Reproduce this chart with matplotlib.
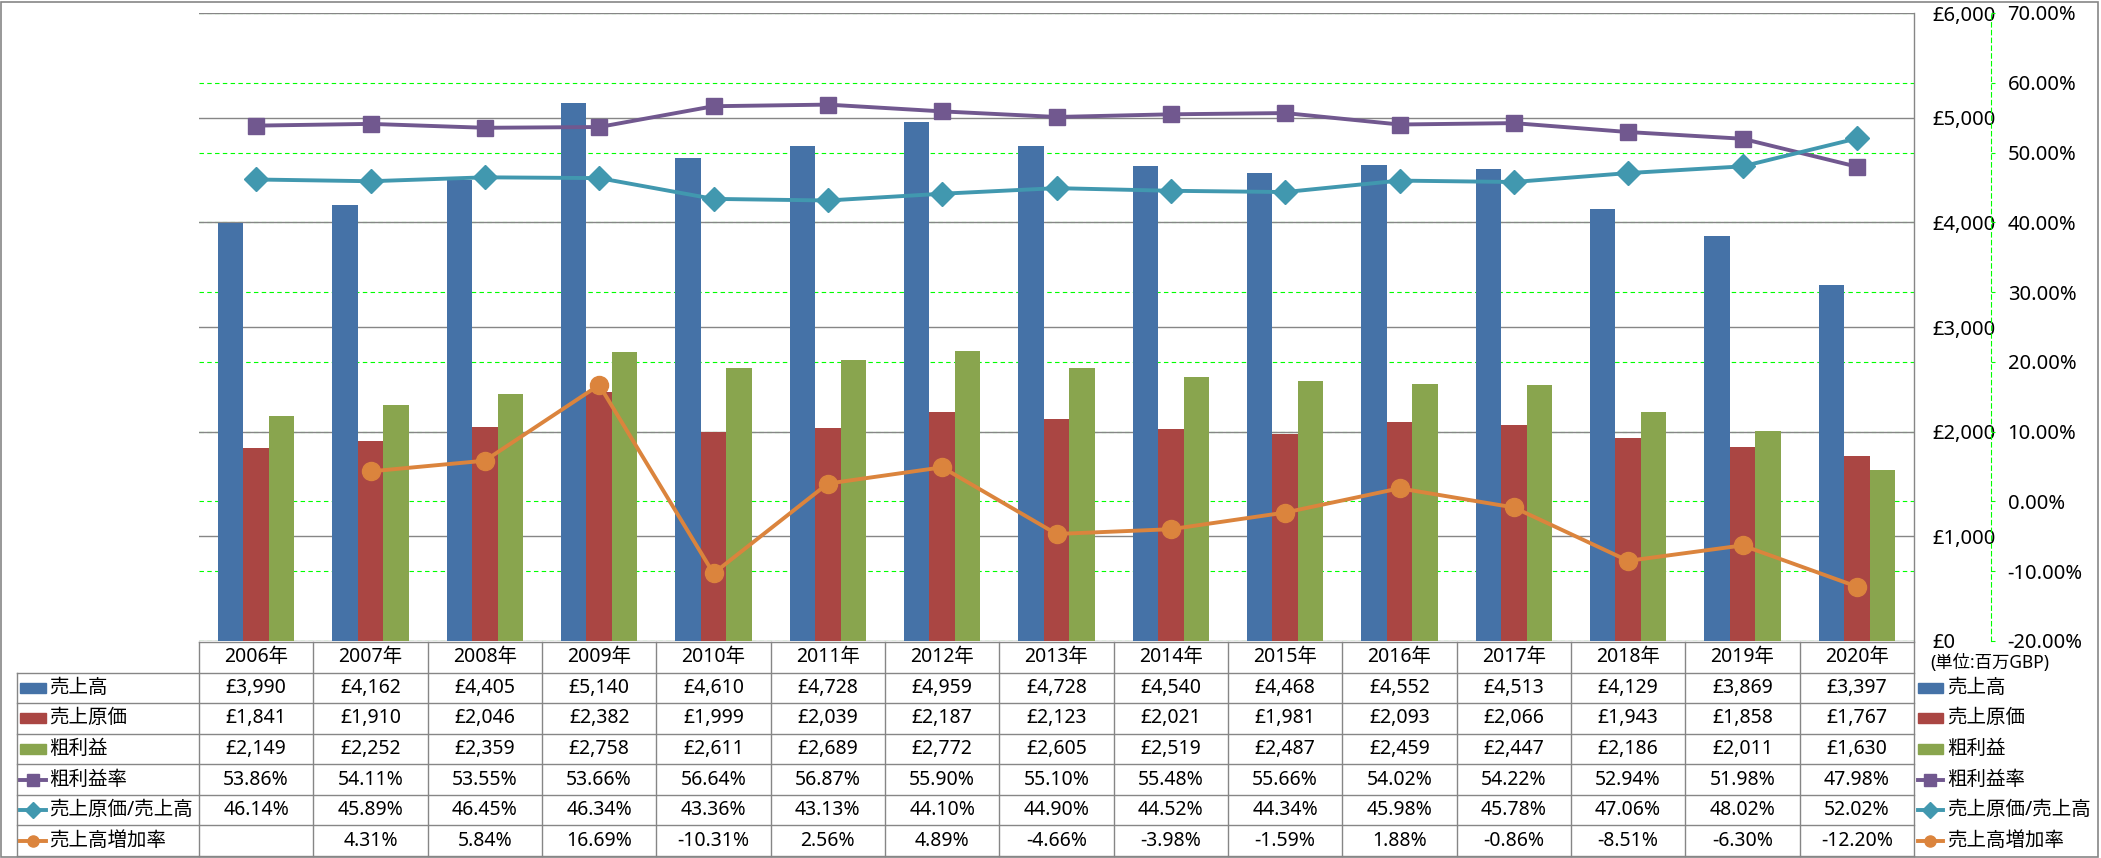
import numpy as np
import matplotlib
matplotlib.use("Agg")
import matplotlib.pyplot as plt
from matplotlib.patches import Rectangle

plt.rcParams['font.family'] = ['Noto Sans', 'Noto Sans CJK JP', 'DejaVu Sans']

years = ['2006年', '2007年', '2008年', '2009年', '2010年', '2011年', '2012年', '2013年',
         '2014年', '2015年', '2016年', '2017年', '2018年', '2019年', '2020年']
sales = [3990, 4162, 4405, 5140, 4610, 4728, 4959, 4728, 4540, 4468, 4552, 4513, 4129, 3869, 3397]
cogs = [1841, 1910, 2046, 2382, 1999, 2039, 2187, 2123, 2021, 1981, 2093, 2066, 1943, 1858, 1767]
gross = [2149, 2252, 2359, 2758, 2611, 2689, 2772, 2605, 2519, 2487, 2459, 2447, 2186, 2011, 1630]
gross_margin = [53.86, 54.11, 53.55, 53.66, 56.64, 56.87, 55.90, 55.10, 55.48, 55.66, 54.02, 54.22, 52.94, 51.98, 47.98]
cogs_ratio = [46.14, 45.89, 46.45, 46.34, 43.36, 43.13, 44.10, 44.90, 44.52, 44.34, 45.98, 45.78, 47.06, 48.02, 52.02]
sales_growth = [None, 4.31, 5.84, 16.69, -10.31, 2.56, 4.89, -4.66, -3.98, -1.59, 1.88, -0.86, -8.51, -6.30, -12.20]

bar_names = ['売上高', '売上原価', '粗利益']
line_names = ['粗利益率', '売上原価/売上高', '売上高増加率']
money_ticks = [0, 1000, 2000, 3000, 4000, 5000, 6000]
pct_ticks = [-20, -10, 0, 10, 20, 30, 40, 50, 60, 70]

# --- styles ---
BLUE, RED, GREEN = '#4572A7', '#AA4643', '#89A54E'
PURPLE, TEAL, ORANGE = '#71588F', '#4198AF', '#DB843D'
GRAY = '#868686'
LIME = '#00FF00'
FS = 14
AFS = 14.5

W, H = 2101, 858
fig = plt.figure(figsize=(W / 100, H / 100), dpi=100)


def px_rect(left, top, right, bottom):
    return [left / W, (H - bottom) / H, (right - left) / W, (bottom - top) / H]


plot_rect = px_rect(199, 13, 1914, 641)
n = len(years)
x = np.arange(n)

# secondary-scale green grid, drawn underneath everything
ax_g = fig.add_axes(plot_rect, zorder=0)
ax_g.set_xlim(-0.5, n - 0.5)
ax_g.set_ylim(-20, 70)
ax_g.set_yticks(pct_ticks)
ax_g.set_xticks([])
ax_g.yaxis.grid(True, color=LIME, lw=0.8, linestyle=(0, (4, 3)))
ax_g.tick_params(left=False, labelleft=False)
for s in ax_g.spines.values():
    s.set_visible(False)

# bars on primary scale
ax = fig.add_axes(plot_rect, zorder=1)
ax.patch.set_visible(False)
bw = 1 / 4.5
ax.bar(x - bw, sales, bw, color=BLUE, zorder=3)
ax.bar(x, cogs, bw, color=RED, zorder=3)
ax.bar(x + bw, gross, bw, color=GREEN, zorder=3)
ax.set_xlim(-0.5, n - 0.5)
ax.set_ylim(0, 6000)
ax.set_xticks([])
ax.yaxis.grid(True, color=GRAY, lw=1.0)
ax.set_axisbelow(True)

# lines on secondary scale
ax2 = ax.twinx()
ax2.set_zorder(2)
ax2.patch.set_visible(False)
ax2.set_ylim(-20, 70)
growth = np.array([np.nan if v is None else v for v in sales_growth])
ax2.plot(x, gross_margin, color=PURPLE, lw=2.8, marker='s', ms=12, mec=PURPLE)
ax2.plot(x, cogs_ratio, color=TEAL, lw=2.8, marker='D', ms=12, mec=TEAL)
ax2.plot(x, growth, color=ORANGE, lw=2.8, marker='o', ms=13, mec=ORANGE)
ax2.set_yticks(pct_ticks)
ax2.set_yticklabels(['{:.2f}%'.format(v) for v in pct_ticks])
for lab, v in zip(ax2.get_yticklabels(), pct_ticks):
    if v < 0:
        lab.set_color('#FF0000')
ax2.tick_params(axis='y', direction='out', length=3, color=LIME, pad=9, labelsize=AFS)
for k in ['left', 'top', 'bottom']:
    ax2.spines[k].set_visible(False)
ax2.spines['right'].set_position(('outward', 55.4))
ax2.spines['right'].set_color(LIME)
ax2.spines['right'].set_linestyle((0, (4, 3)))
ax2.spines['right'].set_linewidth(0.8)

# primary labels sit on the right too (after twinx, which resets them)
ax.yaxis.tick_right()
ax.set_yticks(money_ticks)
ax.set_yticklabels(['£{:,}'.format(v) for v in money_ticks])
ax.tick_params(axis='y', length=0, pad=13, labelsize=AFS)
for k in ['left', 'top', 'bottom']:
    ax.spines[k].set_visible(False)
ax.spines['right'].set_color(GRAY)
ax.spines['right'].set_linewidth(1.0)

# --- data table below the plot ---
axt = fig.add_axes(px_rect(17, 642, 1914, 856))
hdr_w = (199 - 17) / ((1914 - 199) / n)
x0 = -0.5 - hdr_w
axt.set_xlim(x0, n - 0.5)
axt.set_ylim(7, 0)
axt.axis('off')

lk = dict(color=GRAY, lw=1.0, clip_on=False)
axt.plot([-0.5, n - 0.5], [0, 0], **lk)
for r in range(1, 8):
    axt.plot([x0, n - 0.5], [r, r], **lk)
axt.plot([x0, x0], [1, 7], **lk)
for c in range(n + 1):
    axt.plot([c - 0.5, c - 0.5], [0, 7], **lk)

for i, y in enumerate(years):
    axt.text(i, 0.5, y, ha='center', va='center', fontsize=FS)

rows = [
    ['£{:,}'.format(v) for v in sales],
    ['£{:,}'.format(v) for v in cogs],
    ['£{:,}'.format(v) for v in gross],
    ['{:.2f}%'.format(v) for v in gross_margin],
    ['{:.2f}%'.format(v) for v in cogs_ratio],
    ['' if v is None else '{:.2f}%'.format(v) for v in sales_growth],
]
for r, vals in enumerate(rows):
    for i, t in enumerate(vals):
        axt.text(i, r + 1.5, t, ha='center', va='center', fontsize=FS)

unit = (1914 - 199) / n
keys = [('bar', BLUE, None), ('bar', RED, None), ('bar', GREEN, None),
        ('line', PURPLE, 's'), ('line', TEAL, 'D'), ('line', ORANGE, 'o')]
names = bar_names + line_names


def draw_key(xl, xr, yc, kind, color, mk):
    if kind == 'bar':
        axt.add_patch(Rectangle((xl, yc - 0.165), xr - xl, 0.33, color=color, clip_on=False))
    else:
        axt.plot([xl, xr], [yc, yc], color=color, lw=2.8, clip_on=False)
        axt.plot([(xl + xr) / 2], [yc], marker=mk, ms=8, color=color, clip_on=False)


for r, ((kind, color, mk), name) in enumerate(zip(keys, names)):
    yc = r + 1.5
    # row header keys
    draw_key(x0 + 3 / unit, x0 + 29 / unit, yc, kind, color, mk)
    axt.text(x0 + 32 / unit, yc, name, ha='left', va='center', fontsize=FS)
    # legend on the right
    draw_key(n - 0.5 + 4 / unit, n - 0.5 + 29 / unit, yc, kind, color, mk)
    axt.text(n - 0.5 + 33 / unit, yc, name, ha='left', va='center', fontsize=FS, clip_on=False)

axt.text(n - 0.5 + 16 / unit, 0.69, '(単位:百万GBP)', ha='left', va='center', fontsize=12.5, clip_on=False)

# outer frame
fig.patches.append(Rectangle((0.5 / W, 1 / H), 2097.5 / W, 855.5 / H, transform=fig.transFigure,
                             fill=False, ec=GRAY, lw=1.2))

fig.savefig('out.png', dpi=100)
